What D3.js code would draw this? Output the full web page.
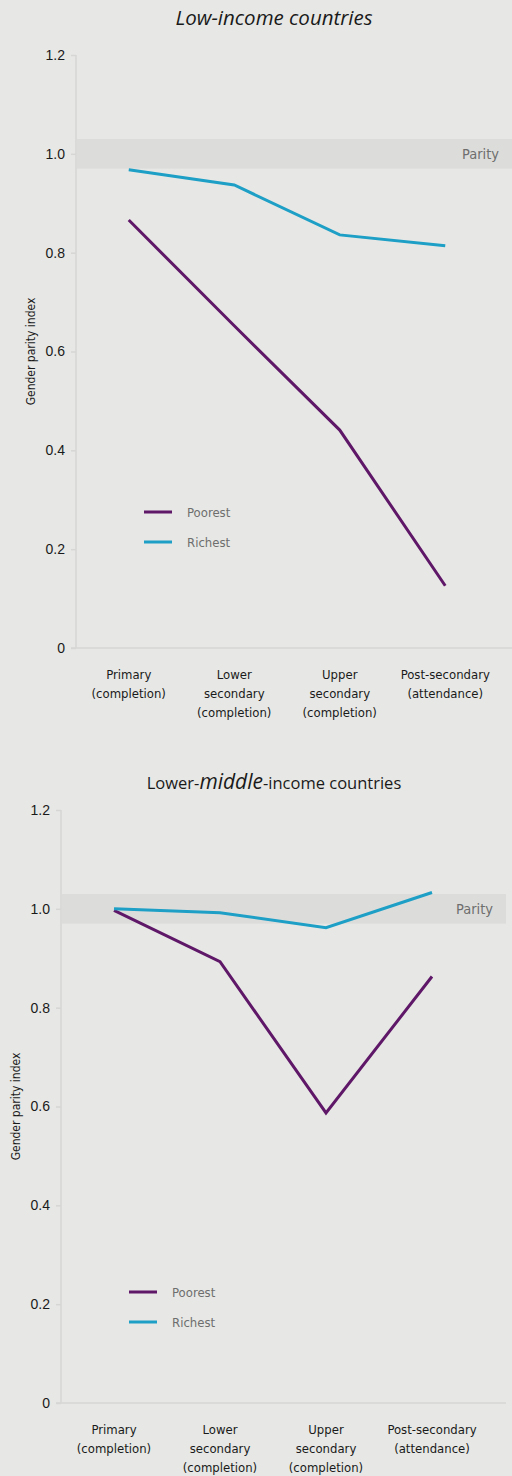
<!DOCTYPE html>
<html>
<head>
<meta charset="utf-8">
<script src="https://cdn.jsdelivr.net/npm/d3@7"></script>
<style>
  html, body { margin: 0; padding: 0; background: #e7e8e5; }
  svg { display: block; font-family: "Liberation Sans Narrow", "DejaVu Sans Condensed", "Roboto", sans-serif; }
</style>
</head>
<body>
<div id="chart"></div>
<script>
// categories on the x axis (each split over lines)
const levels = [
  ["Primary", "(completion)"],
  ["Lower", "secondary", "(completion)"],
  ["Upper", "secondary", "(completion)"],
  ["Post-secondary", "(attendance)"]
];
const yTicks = [0, 0.2, 0.4, 0.6, 0.8, 1.0, 1.2];
const parityBand = [0.97, 1.03];

// low-income countries
const lowPoorest = [0.866, 0.652, 0.441, 0.126];
const lowRichest = [0.968, 0.937, 0.836, 0.814];

// lower-middle-income countries
const lmPoorest = [0.997, 0.893, 0.587, 0.863];
const lmRichest = [1.0, 0.992, 0.962, 1.033];

const seriesNames = ["Poorest", "Richest"];
const seriesColors = ["#5f1768", "#1d9fc6"];

const width = 512, height = 1476;

const svg = d3.select("#chart").append("svg")
    .attr("width", width)
    .attr("height", height);

svg.append("rect").attr("width", width).attr("height", height).attr("fill", "#e7e8e5");

const panels = [
  { data: [lowPoorest, lowRichest], x0: 76, x1: 498, xEnd: 512, yTop: 55, yBot: 648,
    yLabelX: 31, legendX: 144, legendY: 512 },
  { data: [lmPoorest, lmRichest], x0: 61, x1: 485, xEnd: 506, yTop: 810, yBot: 1403,
    yLabelX: 16, legendX: 129, legendY: 1292 }
];

// titles
svg.append("text")
    .attr("x", 274).attr("y", 25)
    .attr("text-anchor", "middle")
    .attr("font-size", 20.5)
    .attr("font-style", "italic")
    .attr("font-family", "'Open Sans', 'DejaVu Sans', sans-serif")
    .attr("fill", "#1a1a1a")
    .text("Low-income countries");

const t2 = svg.append("text")
    .attr("x", 274).attr("y", 789)
    .attr("text-anchor", "middle")
    .attr("font-size", 16.5)
    .attr("font-family", "'Open Sans', 'DejaVu Sans', sans-serif")
    .attr("fill", "#1a1a1a");
t2.append("tspan").text("Lower-");
t2.append("tspan").attr("font-style", "italic").attr("font-size", 21).text("middle");
t2.append("tspan").text("-income countries");

panels.forEach(p => {
  const x = d3.scalePoint()
      .domain(d3.range(levels.length))
      .range([p.x0, p.x1])
      .padding(0.5);
  const y = d3.scaleLinear()
      .domain([0, 1.2])
      .range([p.yBot, p.yTop]);

  const g = svg.append("g");

  // parity band
  g.append("rect")
      .attr("x", p.x0 + 1)
      .attr("width", p.xEnd - p.x0 - 1)
      .attr("y", y(parityBand[1]))
      .attr("height", y(parityBand[0]) - y(parityBand[1]))
      .attr("fill", "#dcdddb");
  g.append("text")
      .attr("x", p.xEnd - 13)
      .attr("y", y(1) + 5)
      .attr("text-anchor", "end")
      .attr("font-size", 14.5)
      .attr("fill", "#6e6e6e")
      .text("Parity");

  // y axis
  const yAxis = g.append("g")
      .attr("transform", `translate(${p.x0},0)`)
      .call(d3.axisLeft(y).tickValues(yTicks).tickSize(5).tickPadding(6)
        .tickFormat(d => d === 0 ? "0" : d3.format(".1f")(d)));
  yAxis.select(".domain").attr("stroke", "#d6d7d4").attr("stroke-width", 1.5)
      .attr("d", `M0,${p.yTop}V${p.yBot}`);
  yAxis.selectAll(".tick line").attr("stroke", "#d6d7d4").attr("stroke-width", 1.5);
  yAxis.selectAll(".tick text").attr("font-size", 14).attr("fill", "#1a1a1a");

  // baseline
  g.append("line")
      .attr("x1", p.x0 - 5).attr("x2", p.xEnd)
      .attr("y1", y(0)).attr("y2", y(0))
      .attr("stroke", "#d6d7d4").attr("stroke-width", 1.5);

  // y title
  g.append("text")
      .attr("transform", `translate(${p.yLabelX + 4},${(p.yTop + p.yBot) / 2}) rotate(-90)`)
      .attr("text-anchor", "middle")
      .attr("font-size", 12)
      .attr("fill", "#1a1a1a")
      .text("Gender parity index");

  // x labels
  levels.forEach((lines, i) => {
    const t = g.append("text")
        .attr("x", x(i))
        .attr("y", y(0) + 31)
        .attr("text-anchor", "middle")
        .attr("font-size", 13)
        .attr("fill", "#1a1a1a");
    lines.forEach((s, j) => {
      t.append("tspan").attr("x", x(i)).attr("dy", j === 0 ? 0 : 19).text(s);
    });
  });

  // lines
  const line = d3.line().x((d, i) => x(i)).y(d => y(d));
  p.data.forEach((vals, k) => {
    g.append("path")
        .datum(vals)
        .attr("fill", "none")
        .attr("stroke", seriesColors[k])
        .attr("stroke-width", 3)
        .attr("d", line);
  });

  // legend
  seriesNames.forEach((name, k) => {
    const ly = p.legendY + k * 30;
    g.append("line")
        .attr("x1", p.legendX).attr("x2", p.legendX + 28)
        .attr("y1", ly).attr("y2", ly)
        .attr("stroke", seriesColors[k]).attr("stroke-width", 3);
    g.append("text")
        .attr("x", p.legendX + 43)
        .attr("y", ly + 5)
        .attr("font-size", 13)
        .attr("fill", "#6e6e6e")
        .text(name);
  });
});
</script>
</body>
</html>
